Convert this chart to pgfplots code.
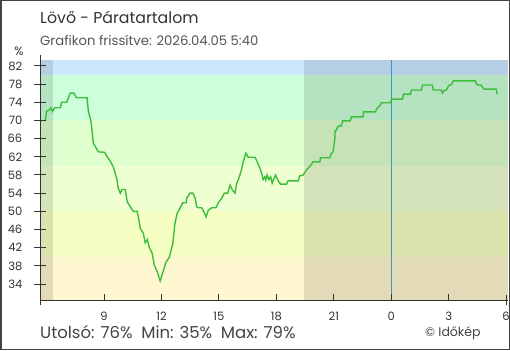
\documentclass[border=0pt]{standalone}
\usepackage{pgfplots}
\pgfplotsset{compat=1.18}
\usepackage{fontspec}
\setmainfont{Poppins}
\definecolor{frame}{HTML}{444444}
\definecolor{axisc}{HTML}{333333}
\definecolor{txt}{HTML}{333333}
\definecolor{subtxt}{HTML}{555555}
\definecolor{lineg}{HTML}{3CBE3C}
\definecolor{bA}{HTML}{CCE8FF}
\definecolor{bB}{HTML}{CCFFDB}
\definecolor{bC}{HTML}{DFFFCF}
\definecolor{bD}{HTML}{F0FFD2}
\definecolor{bE}{HTML}{F5FFC4}
\definecolor{bF}{HTML}{FFF7CF}
\definecolor{nowc}{HTML}{3A96CC}
\begin{document}
\begin{tikzpicture}[x=1pt,y=1pt]
\useasboundingbox (0,0) rectangle (510,350);
\fill[white] (0,0) rectangle (510,350);
\draw[frame,line width=1.5pt] (0.75,0.75) rectangle (509.25,349.25);
\begin{axis}[
  at={(40.5pt,50pt)}, anchor=south west,
  scale only axis, width=467.5pt, height=240pt,
  xmin=5.68, xmax=30.1, ymin=30.5, ymax=83.3,
  axis x line*=bottom, axis y line*=left,
  axis line style={draw=none},
  major tick length=0pt,
  xtick={9,12,15,18,21,24,27,30},
  xticklabels={9,12,15,18,21,0,3,6},
  ytick={34,38,...,82},
  /pgf/number format/assume math mode=true,
  tick label style={font=\fontsize{11.5}{13}\selectfont, text=txt, inner sep=0pt},
  xticklabel style={anchor=base, yshift=-20.5pt},
  yticklabel style={anchor=east, xshift=-18pt},
  clip=false,
]
\fill[bF] (axis cs:5.68,30.5) rectangle (axis cs:30.1,40);
\fill[bE] (axis cs:5.68,40) rectangle (axis cs:30.1,50);
\fill[bD] (axis cs:5.68,50) rectangle (axis cs:30.1,60);
\fill[bC] (axis cs:5.68,60) rectangle (axis cs:30.1,70);
\fill[bB] (axis cs:5.68,70) rectangle (axis cs:30.1,80);
\fill[bA] (axis cs:5.68,80) rectangle (axis cs:30.1,83.3);
\fill[black,opacity=0.11] (axis cs:5.68,30.5) rectangle (axis cs:6.33,83.3);
\fill[black,opacity=0.11] (axis cs:19.43,30.5) rectangle (axis cs:30.1,83.3);
\draw[nowc,line width=1.1pt] (axis cs:24,30.5) -- (axis cs:24,83.3);
\addplot[lineg, line width=1.4pt, mark=none] coordinates {
(5.68,70)(5.94,70)(5.99,72)(6.15,72.3)(6.22,72.8)(6.31,72)(6.41,72.8)(6.72,72.8)(6.78,74)(7.05,74)(7.23,76)(7.42,76)(7.56,75)(8.11,75)(8.18,72)(8.29,70.3)(8.34,69)(8.44,65)(8.55,64.2)(8.70,63.1)(9.02,63)(9.17,62)(9.33,61)(9.48,59.8)(9.68,56.9)(9.74,55.1)(9.85,54)(9.94,54.8)(10.11,54.8)(10.21,52.1)(10.37,51)(10.53,50)(10.73,50)(10.82,48.1)(10.89,46.2)(11.05,45.2)(11.15,43.1)(11.26,43.8)(11.36,42.1)(11.52,40.7)(11.62,38.2)(11.78,36.7)(11.93,34.7)(12.09,36.8)(12.24,38.9)(12.40,39.8)(12.59,42.9)(12.70,47.3)(12.82,49.6)
(12.97,50.7)(13.11,51.9)(13.29,51.9)(13.32,52.9)(13.49,54)(13.64,54)(13.76,52.9)(13.84,51)(13.93,50.8)(14.10,50.8)(14.19,50.1)(14.33,48.8)(14.45,50.3)(14.63,50.8)(14.85,50.8)(14.97,51.9)(15.15,52.9)(15.28,54)(15.46,54)(15.58,55.8)(15.70,54.7)(15.84,54)(15.93,56.2)(16.01,56.9)(16.15,58.7)(16.27,60.9)(16.41,62.8)(16.53,61.9)(16.88,61.9)(17.0,60.9)(17.14,59.5)(17.23,58.4)(17.31,57.0)(17.40,57.6)(17.45,56.9)(17.52,58.0)(17.61,57.0)(17.70,57.6)(17.78,56.2)(17.87,57.2)(17.96,58.0)(18.04,57.2)(18.13,56.5)(18.22,56.0)(18.53,56.0)(18.61,56.7)(19.14,56.7)(19.22,57.8)(19.40,58.0)(19.57,59.1)(19.74,59.8)(19.92,60.9)(20.27,60.9)(20.31,61.8)(20.79,61.8)(20.84,62.4)(20.89,62.8)(20.96,63.1)(21.05,65.7)(21.07,67.8)(21.14,67.8)(21.17,68.3)(21.26,68.8)(21.40,68.8)(21.46,69.9)(21.86,69.9)(21.92,70.8)(22.52,70.8)(22.56,71.9)(23.18,71.9)(23.23,72.5)(23.29,72.8)(23.44,73.4)(23.49,73.9)(23.96,73.9)(24.02,74.7)(24.59,74.7)(24.64,75.8)(25.00,75.8)(25.06,76.7)(25.58,76.7)(25.63,77.8)(26.15,77.8)(26.20,76.7)(26.62,76.7)(26.67,76.0)(26.77,76.6)(26.88,76.7)(26.93,77.1)(27.03,77.8)(27.14,77.8)(27.24,78.7)(28.39,78.7)(28.49,77.8)(28.70,77.8)(28.75,77.4)(28.85,76.9)(29.48,76.9)(29.54,75.8)
};
% axis lines and ticks
\draw[axisc,line width=1pt] ([yshift=-5pt]rel axis cs:0,0) -- ([yshift=5pt]rel axis cs:0,1);
\draw[axisc,line width=1pt] (rel axis cs:0,0) -- (rel axis cs:1,0);
\pgfplotsinvokeforeach{34,38,...,82}{ \draw[axisc,line width=1pt] ([xshift=-6pt]axis cs:5.68,#1) -- ([xshift=6pt]axis cs:5.68,#1); }
\pgfplotsinvokeforeach{9,12,15,18,21,24,27}{ \draw[axisc,line width=1pt] (axis cs:#1,30.5) -- ([yshift=6pt]axis cs:#1,30.5); }
\draw[axisc,line width=1pt] ([yshift=-5pt]axis cs:30,30.5) -- ([yshift=5pt]axis cs:30,30.5);
\end{axis}
\node[anchor=base west,inner sep=0pt,text=subtxt,font=\fontsize{13.2}{15}\selectfont] at (40,304) {Grafikon frissítve: 2026.04.05 5:40};
\node[anchor=base west,inner sep=0pt,text=txt,font=\fontsize{15.8}{18}\selectfont] at (40,326) {Lövő - Páratartalom};
\node[anchor=base,inner sep=0pt,text=txt,font=\fontsize{12}{14}\selectfont] at (19,294) {\%};
\node[anchor=base west,inner sep=0pt,text=frame,font=\fontsize{16.5}{18}\selectfont] at (40,11.5) {Utolsó: 76\%\ \ Min: 35\%\ \ Max: 79\%};
\node[anchor=base west,inner sep=0pt,text=frame,font=\fontsize{12.5}{14}\selectfont] at (425,14) {© Időkép};
\end{tikzpicture}
\end{document}
